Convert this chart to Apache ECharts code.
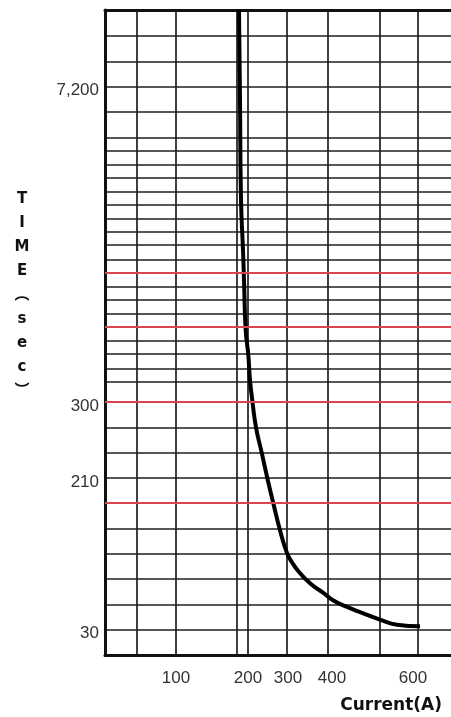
<!DOCTYPE html>
<html>
<head>
<meta charset="utf-8">
<script src="https://cdn.jsdelivr.net/npm/echarts@6/dist/echarts.min.js"></script>
<style>
  html, body { margin: 0; padding: 0; background: #fff; }
  #char { width: 451px; height: 717px; }
</style>
</head>
<body>
<div id="char"></div>
<script>
// The printed grid is not to scale: x is in grid units, y is seconds on the lower part
// and squeezed above 300 s, so the tick labels are placed by hand.
const xGridLines = [32, 71, 132, 143, 182, 223, 275, 313]
const xTickPos = [71, 143, 183, 227, 308]
const xTickLabels = ['100', '200', '300', '400', '600']

const yGridLines = [30, 60, 90, 120, 150, 180, 210, 240, 270, 300,
  324, 340, 357, 373, 389, 405, 421, 437, 453, 469, 486, 502, 518,
  534, 550, 566, 582, 598, 614, 644, 674, 704, 735]
const yTickPos = [30, 210, 300, 674]
const yTickLabels = ['30', '210', '300', '7,200']
const redLines = [180, 300, 389, 453]

// trip curve
const currentPos = [134, 135, 136, 138, 139, 140.7, 143.3, 145, 147.3, 151, 156.7, 162.3, 168.3, 175, 182, 187, 193, 205, 218, 228, 242, 257, 275, 292, 315]
const timePos = [765, 658, 540, 480, 445, 385, 356, 326, 302, 270, 240, 210, 180, 148, 121, 110, 100, 85, 74, 65, 57, 50, 42, 36, 34]

const xMax = 346
const yMax = 765

let myChart = echarts.init(document.getElementById('char'))

let option = {
  backgroundColor: '#fff',
  animation: false,
  grid: {
    left: 105,
    top: 10,
    bottom: 62,
    right: 0,
    containLabel: false
  },
  graphic: [
    {
      type: 'text',
      right: 9,
      top: 697,
      style: {
        text: 'Current(A)',
        font: 'bold 17px "DejaVu Sans"',
        fill: '#111'
      }
    },
    {
      type: 'text',
      x: 22,
      y: 187,
      style: {
        text: 'T\nI\nM\nE\n︵\ns\ne\nc\n︶',
        font: 'bold 15px "DejaVu Sans", "Noto Sans CJK SC"',
        lineHeight: 24,
        align: 'center',
        fill: '#111'
      }
    }
  ],
  xAxis: [
    {
      type: 'value',
      min: 0,
      max: xMax,
      axisLine: { show: true, lineStyle: { color: '#111', width: 3 } },
      axisTick: { show: false, customValues: xGridLines },
      splitLine: { show: true, lineStyle: { color: '#1e1e1e', width: 1.7 } },
      axisLabel: {
        customValues: xTickPos,
        margin: 15,
        fontSize: 17,
        fontFamily: 'Liberation Sans',
        color: '#333',
        formatter: function (v) {
          return xTickLabels[xTickPos.indexOf(v)]
        }
      }
    },
    {
      // top frame
      type: 'value',
      position: 'top',
      min: 0,
      max: xMax,
      axisLine: { show: true, lineStyle: { color: '#111', width: 3 } },
      axisTick: { show: false },
      axisLabel: { show: false },
      splitLine: { show: false }
    }
  ],
  yAxis: {
    type: 'value',
    min: 0,
    max: yMax,
    axisLine: { show: true, lineStyle: { color: '#111', width: 3 } },
    axisTick: { show: false, customValues: yGridLines },
    splitLine: { show: true, lineStyle: { color: '#1e1e1e', width: 1.7 } },
    axisLabel: {
      customValues: yTickPos,
      margin: 6,
      verticalAlign: 'top',
      lineHeight: 8,
      fontSize: 17,
      fontFamily: 'Liberation Sans',
      color: '#333',
      formatter: function (v) {
        return yTickLabels[yTickPos.indexOf(v)]
      }
    }
  },
  series: [
    {
      type: 'line',
      z: 2,
      data: [],
      markLine: {
        silent: true,
        symbol: ['none', 'none'],
        label: { show: false },
        lineStyle: { color: '#d9464e', width: 1.8, type: 'solid' },
        data: redLines.map(v => ({ yAxis: v }))
      }
    },
    {
      type: 'line',
      z: 3,
      smooth: 0.5,
      showSymbol: false,
      lineStyle: { color: '#000', width: 4 },
      data: currentPos.map((x, i) => [x, timePos[i]])
    }
  ]
}

myChart.setOption(option)
</script>
</body>
</html>
